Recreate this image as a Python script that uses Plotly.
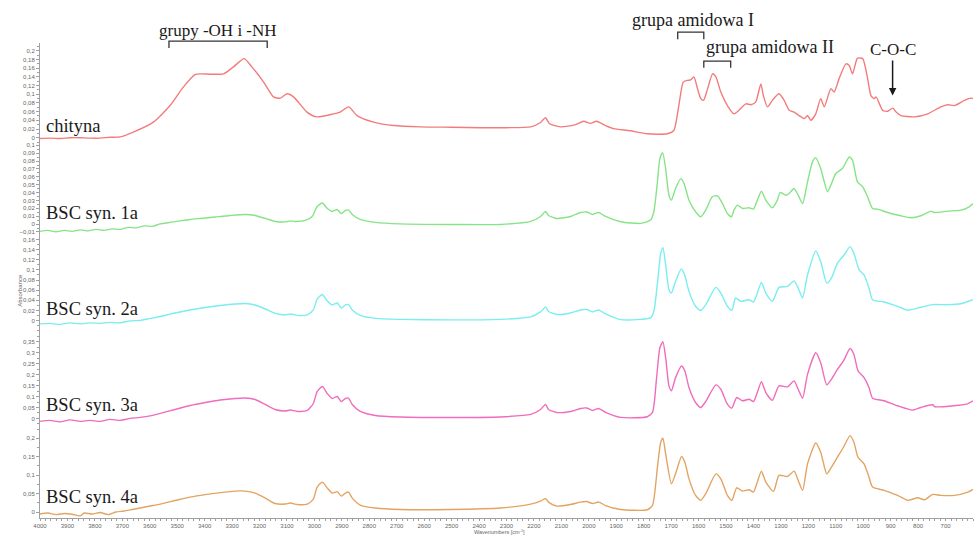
import plotly.graph_objects as go

# ---------------- data ----------------
# FTIR spectra (wavenumber in cm-1, absorbance)
chityna_wn = [4000, 3960, 3927, 3890, 3854, 3820, 3781, 3745, 3708, 3660, 3587, 3526, 3477, 3435, 3416, 3373,
              3331, 3295, 3256, 3228, 3185, 3149, 3124, 3100, 3076, 3027, 2991, 2930, 2906, 2875, 2845, 2784,
              2711, 2614, 2500, 2395, 2300, 2212, 2176, 2158, 2143, 2103, 2048, 2019, 1994, 1972, 1939, 1910,
              1850, 1787, 1714, 1690, 1672, 1656, 1641, 1629, 1617, 1604, 1592, 1582, 1567, 1549, 1537, 1519,
              1495, 1471, 1453, 1428, 1410, 1392, 1373, 1364, 1349, 1331, 1307, 1288, 1270, 1252, 1234, 1215,
              1203, 1191, 1173, 1155, 1142, 1118, 1106, 1088, 1063, 1051, 1039, 1021, 1002, 984, 972, 960,
              953, 941, 929, 911, 892, 880, 863, 814, 765, 717, 692, 668, 631, 607, 600]
chityna_abs = [-0.002, -0.001, -0.002, 0.000, 0.000, -0.001, -0.001, 0.001, 0.002, 0.013, 0.036, 0.074, 0.117,
               0.145, 0.147, 0.146, 0.147, 0.163, 0.182, 0.163, 0.128, 0.094, 0.091, 0.101, 0.094, 0.059, 0.048,
               0.055, 0.059, 0.071, 0.051, 0.036, 0.028, 0.025, 0.024, 0.023, 0.023, 0.025, 0.035, 0.046, 0.032,
               0.025, 0.030, 0.038, 0.033, 0.038, 0.028, 0.021, 0.016, 0.009, 0.009, 0.017, 0.074, 0.128, 0.132,
               0.133, 0.140, 0.113, 0.090, 0.086, 0.113, 0.147, 0.140, 0.105, 0.074, 0.055, 0.063, 0.078, 0.076,
               0.082, 0.124, 0.097, 0.071, 0.086, 0.101, 0.086, 0.063, 0.059, 0.051, 0.044, 0.051, 0.040, 0.055,
               0.090, 0.071, 0.113, 0.105, 0.136, 0.170, 0.166, 0.147, 0.183, 0.182, 0.136, 0.097, 0.090, 0.094,
               0.078, 0.063, 0.061, 0.068, 0.059, 0.051, 0.048, 0.055, 0.071, 0.076, 0.074, 0.086, 0.091, 0.090]

bsc1a_wn = [4000, 3971, 3942, 3912, 3883, 3854, 3825, 3796, 3767, 3737, 3708, 3679, 3650, 3621, 3591, 3562,
            3526, 3489, 3453, 3416, 3362, 3307, 3252, 3216, 3179, 3143, 3106, 3088, 3070, 3033, 3008, 2990,
            2971, 2953, 2935, 2917, 2902, 2887, 2876, 2862, 2833, 2778, 2687, 2504, 2322, 2212, 2176, 2158,
            2147, 2118, 2067, 2030, 2008, 1986, 1964, 1939, 1884, 1811, 1775, 1763, 1750, 1741, 1731, 1720,
            1708, 1699, 1684, 1665, 1653, 1635, 1611, 1592, 1574, 1550, 1531, 1513, 1495, 1480, 1471, 1459,
            1440, 1416, 1400, 1386, 1371, 1355, 1331, 1313, 1303, 1282, 1270, 1252, 1237, 1221, 1203, 1185,
            1173, 1155, 1130, 1118, 1100, 1076, 1051, 1039, 1021, 1002, 984, 966, 948, 911, 863, 826, 790,
            753, 741, 692, 644, 614, 600]
bsc1a_abs = [-0.0092, -0.0080, -0.0099, -0.0080, -0.0092, -0.0073, -0.0086, -0.0067, -0.0080, -0.0061, -0.0067,
             -0.0042, -0.0048, -0.0023, -0.0029, 0.0003, 0.0022, 0.0041, 0.0059, 0.0072, 0.0091, 0.0110, 0.0123,
             0.0110, 0.0072, 0.0034, 0.0028, 0.0041, 0.0034, 0.0047, 0.0097, 0.0224, 0.0268, 0.0199, 0.0161,
             0.0186, 0.0135, 0.0173, 0.0180, 0.0123, 0.0059, 0.0022, 0.0003, -0.0004, -0.0004, 0.0034, 0.0097,
             0.0161, 0.0110, 0.0072, 0.0097, 0.0148, 0.0154, 0.0123, 0.0148, 0.0097, 0.0030, 0.0009, 0.0051,
             0.0157, 0.0537, 0.0832, 0.0908, 0.0705, 0.0367, 0.0304, 0.0452, 0.0578, 0.0515, 0.0304, 0.0157,
             0.0094, 0.0177, 0.0347, 0.0359, 0.0262, 0.0135, 0.0094, 0.0177, 0.0241, 0.0199, 0.0208, 0.0190,
             0.0304, 0.0418, 0.0304, 0.0208, 0.0304, 0.0401, 0.0367, 0.0389, 0.0452, 0.0367, 0.0262, 0.0537,
             0.0790, 0.0844, 0.0705, 0.0410, 0.0494, 0.0642, 0.0705, 0.0853, 0.0810, 0.0537, 0.0473, 0.0347,
             0.0199, 0.0190, 0.0148, 0.0106, 0.0081, 0.0106, 0.0165, 0.0148, 0.0165, 0.0177, 0.0220, 0.0262]

bsc2a_wn = [4000, 3964, 3927, 3891, 3854, 3818, 3781, 3745, 3708, 3672, 3635, 3599, 3562, 3508, 3453, 3398,
            3343, 3289, 3252, 3216, 3179, 3143, 3106, 3088, 3062, 3026, 3004, 2990, 2971, 2953, 2935, 2917,
            2902, 2887, 2876, 2862, 2833, 2778, 2687, 2504, 2322, 2212, 2176, 2158, 2147, 2118, 2067, 2030,
            2008, 1986, 1964, 1939, 1884, 1811, 1775, 1763, 1748, 1738, 1730, 1720, 1708, 1699, 1684, 1663,
            1651, 1635, 1611, 1592, 1574, 1537, 1519, 1495, 1479, 1465, 1446, 1416, 1400, 1386, 1371, 1355,
            1331, 1307, 1276, 1252, 1237, 1221, 1203, 1173, 1155, 1133, 1116, 1094, 1070, 1048, 1034, 1015,
            997, 979, 966, 924, 875, 838, 790, 747, 692, 644, 600]
bsc2a_abs = [-0.0065, -0.0055, -0.0075, -0.0045, -0.0065, -0.0045, -0.0055, -0.0035, -0.0045, -0.0006, 0.0004,
             0.0043, 0.0082, 0.0151, 0.0210, 0.0259, 0.0298, 0.0327, 0.0337, 0.0308, 0.0229, 0.0141, 0.0112,
             0.0131, 0.0102, 0.0112, 0.0210, 0.0425, 0.0514, 0.0386, 0.0308, 0.0347, 0.0249, 0.0308, 0.0318,
             0.0210, 0.0102, 0.0043, 0.0024, 0.0014, 0.0024, 0.0073, 0.0171, 0.0269, 0.0180, 0.0122, 0.0151,
             0.0210, 0.0220, 0.0171, 0.0210, 0.0131, 0.0020, 0.0024, 0.0053, 0.0184, 0.0837, 0.1327, 0.1439,
             0.1098, 0.0608, 0.0543, 0.0773, 0.1020, 0.0902, 0.0576, 0.0282, 0.0196, 0.0314, 0.0655, 0.0543,
             0.0282, 0.0204, 0.0445, 0.0380, 0.0412, 0.0367, 0.0543, 0.0753, 0.0543, 0.0380, 0.0655, 0.0675,
             0.0784, 0.0641, 0.0445, 0.0902, 0.1373, 0.1165, 0.0739, 0.0837, 0.1131, 0.1294, 0.1459, 0.1327,
             0.1000, 0.0902, 0.0641, 0.0412, 0.0367, 0.0282, 0.0204, 0.0263, 0.0314, 0.0314, 0.0333, 0.0412]

bsc3a_wn = [4000, 3964, 3927, 3891, 3854, 3818, 3781, 3745, 3708, 3672, 3635, 3599, 3562, 3508, 3453, 3398,
            3343, 3289, 3252, 3216, 3179, 3143, 3106, 3088, 3062, 3026, 3004, 2990, 2971, 2953, 2935, 2917,
            2902, 2887, 2876, 2862, 2833, 2778, 2687, 2504, 2322, 2212, 2176, 2158, 2147, 2118, 2067, 2030,
            2008, 1986, 1964, 1939, 1884, 1787, 1768, 1753, 1741, 1730, 1720, 1708, 1699, 1684, 1662, 1650,
            1635, 1611, 1592, 1574, 1537, 1519, 1495, 1479, 1461, 1440, 1416, 1400, 1386, 1371, 1355, 1331,
            1307, 1276, 1252, 1237, 1221, 1203, 1173, 1155, 1133, 1116, 1094, 1072, 1048, 1034, 1019, 997,
            979, 966, 924, 875, 820, 790, 747, 739, 672, 623, 600]
bsc3a_abs = [-0.0136, -0.0091, -0.0160, -0.0068, -0.0136, -0.0091, -0.0136, -0.0045, -0.0091, 0.0000, 0.0045,
             0.0114, 0.0227, 0.0409, 0.0591, 0.0727, 0.0841, 0.0909, 0.0932, 0.0864, 0.0636, 0.0409, 0.0341,
             0.0386, 0.0318, 0.0364, 0.0682, 0.1227, 0.1455, 0.1136, 0.0909, 0.1000, 0.0773, 0.0909, 0.0932,
             0.0636, 0.0318, 0.0136, 0.0068, 0.0045, 0.0068, 0.0182, 0.0409, 0.0636, 0.0409, 0.0273, 0.0318,
             0.0455, 0.0477, 0.0364, 0.0455, 0.0273, 0.0045, 0.0077, 0.0273, 0.1864, 0.3227, 0.3500, 0.2773,
             0.1486, 0.1259, 0.1864, 0.2395, 0.2168, 0.1409, 0.0727, 0.0500, 0.0773, 0.1532, 0.1332, 0.0650,
             0.0468, 0.0955, 0.0805, 0.0877, 0.0773, 0.1182, 0.1682, 0.1182, 0.0832, 0.1486, 0.1441, 0.1714,
             0.1332, 0.0923, 0.2014, 0.3000, 0.2545, 0.1532, 0.1786, 0.2241, 0.2623, 0.3195, 0.2923, 0.2168,
             0.1864, 0.1409, 0.0923, 0.0805, 0.0577, 0.0377, 0.0500, 0.0623, 0.0532, 0.0577, 0.0650, 0.0805]

bsc4a_wn = [4000, 3971, 3942, 3912, 3883, 3854, 3839, 3810, 3781, 3752, 3723, 3694, 3664, 3635, 3599, 3562,
            3508, 3453, 3398, 3343, 3289, 3252, 3216, 3179, 3143, 3106, 3088, 3062, 3026, 3004, 2990, 2971,
            2953, 2935, 2917, 2902, 2887, 2876, 2862, 2833, 2778, 2687, 2504, 2322, 2212, 2176, 2158, 2147,
            2118, 2067, 2030, 2008, 1986, 1964, 1939, 1884, 1787, 1768, 1750, 1738, 1730, 1720, 1699, 1684,
            1662, 1650, 1635, 1611, 1592, 1574, 1537, 1519, 1495, 1479, 1461, 1440, 1416, 1400, 1386, 1371,
            1355, 1327, 1307, 1276, 1252, 1237, 1221, 1203, 1173, 1155, 1133, 1116, 1094, 1072, 1048, 1034,
            1019, 997, 979, 966, 924, 875, 838, 801, 777, 747, 717, 668, 619, 600]
bsc4a_abs = [-0.0054, -0.0027, -0.0070, -0.0041, -0.0060, -0.0105, -0.0027, -0.0054, -0.0014, -0.0070, 0.0000,
             0.0027, 0.0068, 0.0108, 0.0162, 0.0216, 0.0311, 0.0405, 0.0473, 0.0527, 0.0568, 0.0568, 0.0514,
             0.0378, 0.0230, 0.0216, 0.0243, 0.0203, 0.0216, 0.0351, 0.0676, 0.0811, 0.0649, 0.0514, 0.0554,
             0.0432, 0.0514, 0.0541, 0.0378, 0.0189, 0.0108, 0.0068, 0.0068, 0.0108, 0.0216, 0.0297, 0.0365,
             0.0270, 0.0162, 0.0203, 0.0270, 0.0284, 0.0230, 0.0270, 0.0176, 0.0068, 0.0062, 0.0181, 0.1216,
             0.1892, 0.2000, 0.1576, 0.0765, 0.1035, 0.1505, 0.1351, 0.0900, 0.0451, 0.0316, 0.0495, 0.1035,
             0.0900, 0.0451, 0.0316, 0.0657, 0.0568, 0.0603, 0.0541, 0.0811, 0.1108, 0.0811, 0.0559, 0.0992,
             0.0965, 0.1108, 0.0857, 0.0586, 0.1305, 0.1873, 0.1622, 0.1035, 0.1216, 0.1486, 0.1757, 0.2073,
             0.1892, 0.1486, 0.1305, 0.0946, 0.0676, 0.0586, 0.0451, 0.0316, 0.0386, 0.0332, 0.0478, 0.0451,
             0.0451, 0.0541, 0.0614]

sample_names = ["chityna", "BSC syn. 1a", "BSC syn. 2a", "BSC syn. 3a", "BSC syn. 4a"]

x_ticks = [4000, 3900, 3800, 3700, 3600, 3500, 3400, 3300, 3200, 3100, 3000, 2900, 2800, 2700, 2600, 2500,
           2400, 2300, 2200, 2100, 2000, 1900, 1800, 1700, 1600, 1500, 1400, 1300, 1200, 1100, 1000, 900,
           800, 700, 600]
y_ticks_chityna = [0, 0.02, 0.04, 0.06, 0.08, 0.1, 0.12, 0.14, 0.16, 0.18, 0.2]
y_ticks_1a = [-0.01, 0, 0.01, 0.02, 0.03, 0.04, 0.05, 0.06, 0.07, 0.08, 0.09, 0.1]
y_ticks_2a = [0, 0.02, 0.04, 0.06, 0.08, 0.1, 0.12, 0.14, 0.16]
y_ticks_3a = [0, 0.05, 0.1, 0.15, 0.2, 0.25, 0.3, 0.35]
y_ticks_4a = [0, 0.05, 0.1, 0.15, 0.2]

# ---------------- figure ----------------
panels = [
    dict(wn=chityna_wn, ab=chityna_abs, color="#f27c7c", rng=[-0.016, 0.218], ticks=y_ticks_chityna, dom=[0.786, 1.0], lab_y=0.826),
    dict(wn=bsc1a_wn, ab=bsc1a_abs, color="#86e486", rng=[-0.0143, 0.1009], ticks=y_ticks_1a, dom=[0.595, 0.786], lab_y=0.642),
    dict(wn=bsc2a_wn, ab=bsc2a_abs, color="#78eeee", rng=[-0.0202, 0.168], ticks=y_ticks_2a, dom=[0.394, 0.595], lab_y=0.440),
    dict(wn=bsc3a_wn, ab=bsc3a_abs, color="#f06cbc", rng=[-0.0318, 0.40], ticks=y_ticks_3a, dom=[0.195, 0.394], lab_y=0.238),
    dict(wn=bsc4a_wn, ab=bsc4a_abs, color="#e3a463", rng=[-0.0162, 0.235], ticks=y_ticks_4a, dom=[0.0, 0.195], lab_y=0.044),
]

fig = go.Figure()
axis_grey = "#a0a0a0"
tick_font = dict(family="Liberation Sans, Arial", size=6, color="#666666")
label_font = dict(family="Liberation Serif, Times New Roman, serif", size=18.5, color="#1a1a1a")

annotations = []
for i, (p, name) in enumerate(zip(panels, sample_names)):
    yname = "y" if i == 0 else f"y{i + 1}"
    fig.add_trace(go.Scatter(
        x=p["wn"], y=p["ab"], mode="lines", name=name, xaxis="x", yaxis=yname,
        line=dict(color=p["color"], width=1.4, shape="spline", smoothing=0.6),
        hoverinfo="x+y",
    ))
    key = "yaxis" if i == 0 else f"yaxis{i + 1}"
    fig.layout[key] = dict(
        domain=p["dom"], range=p["rng"], anchor="x",
        tickvals=p["ticks"], ticks="outside", ticklen=3, tickcolor=axis_grey,
        showline=True, linecolor=axis_grey, linewidth=1, showgrid=False, zeroline=False,
        tickfont=tick_font,
        minor=dict(ticks="outside", ticklen=2, tickcolor=axis_grey,
                   dtick=(p["ticks"][1] - p["ticks"][0]) / 2),
    )
    annotations.append(dict(
        text=name, xref="paper", yref="paper", x=0.004, y=p["lab_y"],
        xanchor="left", yanchor="middle", showarrow=False, font=label_font,
    ))

fig.update_layout(
    xaxis=dict(
        range=[4000, 600], anchor="y5", domain=[0, 1],
        tickvals=x_ticks, ticktext=[str(t) for t in x_ticks],
        ticks="outside", ticklen=2, tickcolor=axis_grey,
        showline=True, linecolor=axis_grey, linewidth=1, showgrid=False, zeroline=False,
        tickfont=tick_font,
        minor=dict(ticks="outside", ticklen=1.5, tickcolor=axis_grey, dtick=20),
    ),
    separators=", ",
    width=978, height=537,
    margin=dict(l=40, r=5, t=43, b=19),
    plot_bgcolor="white", paper_bgcolor="white",
    showlegend=False,
)

# band annotations on the chitin spectrum
band_font = dict(family="Liberation Serif, Times New Roman, serif", color="#1a1a1a")
annotations += [
    dict(text="grupy -OH i -NH", xref="x", yref="paper", x=3350, y=1.027, yanchor="middle",
         showarrow=False, font=dict(size=17, **band_font)),
    dict(text="grupa amidowa I", xref="x", yref="paper", x=1620, y=1.048, yanchor="middle",
         showarrow=False, font=dict(size=18, **band_font)),
    dict(text="grupa amidowa II", xref="x", yref="paper", x=1340, y=0.9916, yanchor="middle",
         showarrow=False, font=dict(size=18, **band_font)),
    # label with its arrow pointing at the C-O-C band
    dict(text="C-O-C", xref="x", yref="y", x=893, y=0.097, ax=0, ay=-46,
         showarrow=True, arrowhead=2, arrowsize=1, arrowwidth=1.5, arrowcolor="#1a1a1a",
         font=dict(size=17, **band_font)),
    dict(text="Absorbance", xref="paper", yref="paper", x=-0.027, y=0.48, textangle=-90,
         showarrow=False, font=dict(family="Liberation Sans, Arial", size=6, color="#666666")),
    dict(text="Wavenumbers [cm<sup>-1</sup>]", xref="paper", yref="paper", x=0.493, y=-0.0295,
         yanchor="middle", showarrow=False,
         font=dict(family="Liberation Sans, Arial", size=5.5, color="#666666")),
]
fig.update_layout(annotations=annotations)

# square brackets marking the band ranges: (start, end, top, bottom) in wavenumber / paper units
brackets = [(3530, 3172, 1.004, 0.9895), (1676, 1581, 1.023, 1.008), (1581, 1483, 0.962, 0.948)]
for x0, x1, ytop, ybot in brackets:
    fig.add_shape(type="path", xref="x", yref="paper",
                  path=f"M {x0},{ybot} L {x0},{ytop} L {x1},{ytop} L {x1},{ybot}",
                  line=dict(color="#333333", width=1.3))

fig.write_html("out.html")
